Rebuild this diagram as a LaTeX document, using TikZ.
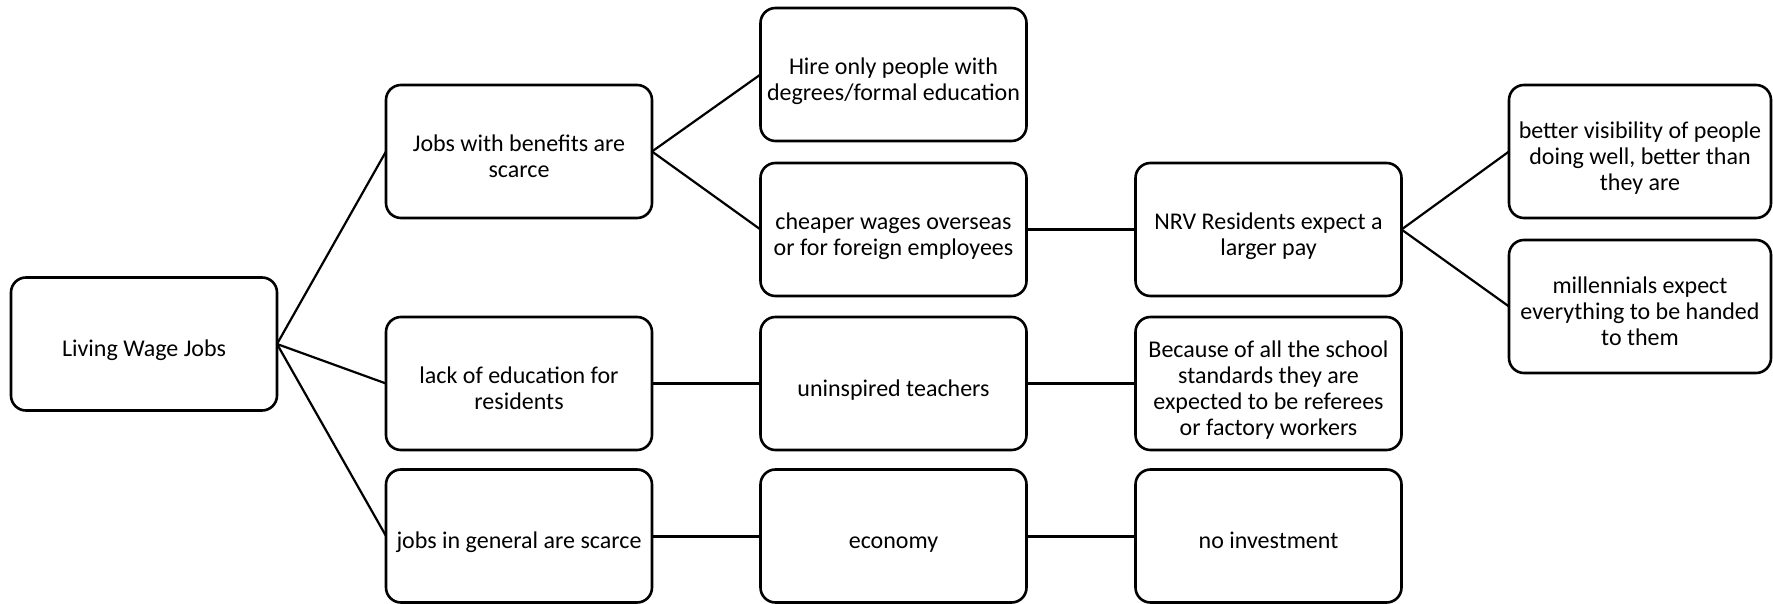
\documentclass[tikz,border=0pt]{standalone}
\usepackage{fontspec}
\setmainfont{Carlito}
\newcommand{\boxtxt}[1]{\raisebox{-7.5pt}[\height][\depth]{\begin{tabular}{@{}c@{}}#1\end{tabular}}}
\begin{document}
\begin{tikzpicture}[x=1pt,y=1pt,
  cbox/.style={draw, line width=2.6pt, rounded corners=15pt, inner sep=0pt, outer sep=0pt,
    minimum width=266pt, minimum height=133pt, font=\fontsize{24}{26}\selectfont},
  rbox/.style={cbox, minimum width=262pt},
  diag/.style={line width=2.2pt},
  horiz/.style={line width=3pt}]
\useasboundingbox (0,0) rectangle (1773,603);
\fill[white] (0,0) rectangle (1773,603);
% nodes (y = 603 - pixel row)
\node[cbox] (liv)   at (144,   259)   {\boxtxt{Living Wage Jobs}};
\node[cbox] (jb)    at (519,   451.5) {\boxtxt{Jobs with benefits are\\scarce}};
\node[cbox] (hire)  at (893.5, 528.5) {\boxtxt{Hire only people with\\degrees/formal education}};
\node[cbox] (cheap) at (893.5, 373.5) {\boxtxt{cheaper wages overseas\\or for foreign employees}};
\node[cbox] (nrv)   at (1268.5,373.5) {\boxtxt{NRV Residents expect a\\larger pay}};
\node[rbox] (vis)   at (1640,  451.5) {\boxtxt{better visibility of people\\doing well, better than\\they are}};
\node[rbox] (mil)   at (1640,  296.5) {\boxtxt{millennials expect\\everything to be handed\\to them}};
\node[cbox] (lack)  at (519,   219.5) {\boxtxt{lack of education for\\residents}};
\node[cbox] (uni)   at (893.5, 219.5) {\boxtxt{uninspired teachers}};
\node[cbox] (bec)   at (1268.5,219.5) {\boxtxt{Because of all the school\\standards they are\\expected to be referees\\or factory workers}};
\node[cbox] (gen)   at (519,   67)    {\boxtxt{jobs in general are scarce}};
\node[cbox] (eco)   at (893.5, 67)    {\boxtxt{economy}};
\node[cbox] (noinv) at (1268.5,67)    {\boxtxt{no investment}};
% connectors
\draw[diag] (liv.east) -- (jb.west);
\draw[diag] (liv.east) -- (lack.west);
\draw[diag] (liv.east) -- (gen.west);
\draw[diag] (jb.east) -- (hire.west);
\draw[diag] (jb.east) -- (cheap.west);
\draw[horiz] (cheap.east) -- (nrv.west);
\draw[diag] (nrv.east) -- (vis.west);
\draw[diag] (nrv.east) -- (mil.west);
\draw[horiz] (lack.east) -- (uni.west);
\draw[horiz] (uni.east) -- (bec.west);
\draw[horiz] (gen.east) -- (eco.west);
\draw[horiz] (eco.east) -- (noinv.west);
\end{tikzpicture}
\end{document}
